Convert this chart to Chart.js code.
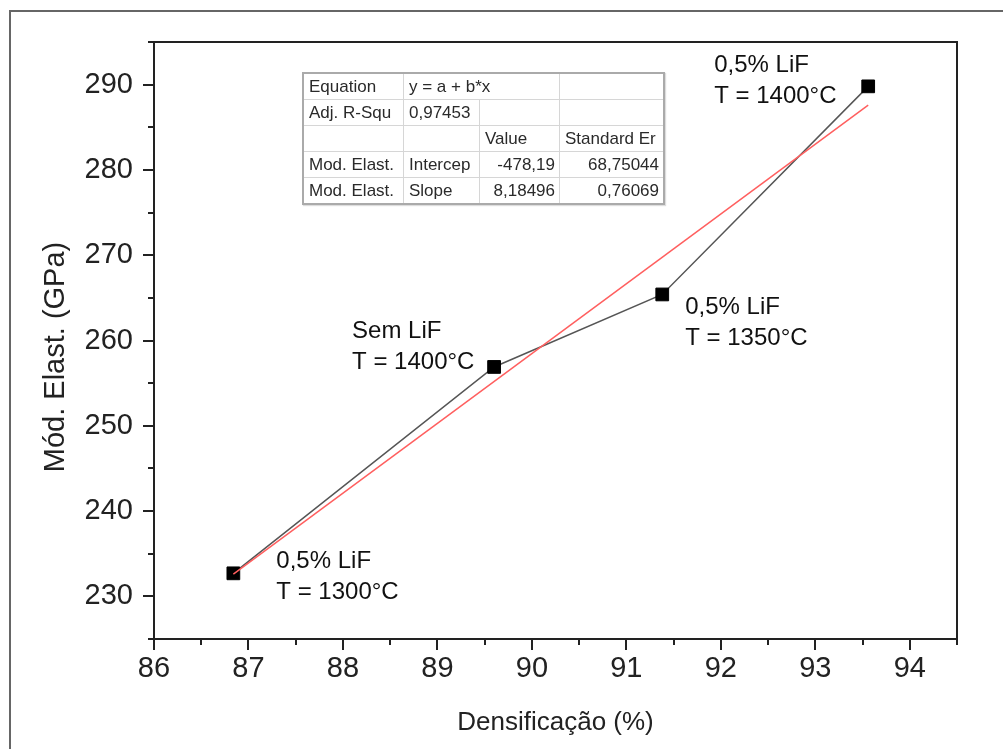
<!DOCTYPE html>
<html>
<head>
<meta charset="utf-8">
<script src="https://cdn.jsdelivr.net/npm/chart.js@4.4.0/dist/chart.umd.min.js"></script>
<style>
  body { margin: 0; background: #fff; font-family: "Liberation Sans", Arial, sans-serif; }
  #wrap { position: relative; width: 1003px; height: 749px; overflow: hidden; background: #fff; }
  #frame { position: absolute; left: 9px; top: 10px; width: 1100px; height: 900px; border: 2px solid #666; }
  #chartBox { position: absolute; left: 0; top: 0; width: 1003px; height: 749px; }
  #fitTable { position: absolute; left: 302px; top: 72px; border-collapse: collapse;
    font-size: 17px; color: #2a2a2a; background: #fff; border: 2px solid #aaa;
    box-shadow: 1px 1px 1px #ddd; }
  #fitTable td { border: 1px solid #d6d6d6; height: 25px; padding: 0 4px 0 5px; white-space: nowrap; }
  #fitTable td.num { text-align: right; }
</style>
</head>
<body>
<div id="wrap">
  <div id="frame"></div>
  <div id="chartBox"><canvas id="modChart"></canvas></div>
  <table id="fitTable"></table>
</div>
<script>
// densification (%) vs elastic modulus (GPa)
const densificacao = [86.84, 89.60, 91.38, 93.56];
const modElast = [232.7, 256.9, 265.4, 289.8];
const pointLabels = [
  ['0,5% LiF', 'T = 1300°C'],
  ['Sem LiF', 'T = 1400°C'],
  ['0,5% LiF', 'T = 1350°C'],
  ['0,5% LiF', 'T = 1400°C']
];
// linear fit end points (red line)
const fitX = [86.84, 93.56];
const fitY = [232.6, 287.6];

const xTickLabels = ['86', '87', '88', '89', '90', '91', '92', '93', '94'];
const yTickLabels = ['230', '240', '250', '260', '270', '280', '290'];
const yTitle = 'Mód. Elast. (GPa)';

// fit results box
const fitRows = [
  ['Equation', 'y = a + b*x', null, ''],
  ['Adj. R-Squ', '0,97453', '', ''],
  ['', '', 'Value', 'Standard Er'],
  ['Mod. Elast.', 'Intercep', '-478,19', '68,75044'],
  ['Mod. Elast.', 'Slope', '8,18496', '0,76069']
];

// label offsets from each point, in px
const labelOffsets = [[43, -12], [-142, -36], [23, 13], [-154, -21]];

const table = document.getElementById('fitTable');
const colWidths = [100, 76, 80, 104];
fitRows.forEach((row, r) => {
  const tr = document.createElement('tr');
  for (let c = 0; c < row.length; c++) {
    if (row[c] === null) continue;
    const td = document.createElement('td');
    td.textContent = row[c];
    td.style.width = (colWidths[c] - 10) + 'px';
    if (row[c + 1] === null) td.colSpan = 2;
    if (r >= 3 && c >= 2) td.className = 'num';
    tr.appendChild(td);
  }
  table.appendChild(tr);
});

const axisDecor = {
  id: 'axisDecor',
  afterDraw(chart) {
    const { ctx, chartArea: a, scales: { x, y } } = chart;
    ctx.save();
    ctx.strokeStyle = '#222';
    ctx.lineWidth = 2;
    ctx.strokeRect(a.left, a.top, a.right - a.left, a.bottom - a.top);
    ctx.beginPath();
    x.ticks.forEach(t => {
      const px = Math.round(x.getPixelForValue(t.value));
      const len = Number.isInteger(t.value) ? 11 : 6;
      ctx.moveTo(px, a.bottom);
      ctx.lineTo(px, a.bottom + len);
    });
    y.ticks.forEach(t => {
      const py = Math.round(y.getPixelForValue(t.value));
      const len = t.value % 10 === 0 ? 11 : 6;
      ctx.moveTo(a.left, py);
      ctx.lineTo(a.left - len, py);
    });
    ctx.stroke();

    // y axis title, sits a bit below the middle of the axis
    ctx.fillStyle = '#222';
    ctx.font = '29px "Liberation Sans", Arial, sans-serif';
    ctx.textAlign = 'center';
    ctx.textBaseline = 'alphabetic';
    ctx.translate(64, 357);
    ctx.rotate(-Math.PI / 2);
    ctx.fillText(yTitle, 0, 0);
    ctx.setTransform(1, 0, 0, 1, 0, 0);

    // point annotations
    ctx.fillStyle = '#111';
    ctx.font = '24px "Liberation Sans", Arial, sans-serif';
    ctx.textBaseline = 'middle';
    ctx.textAlign = 'left';
    densificacao.forEach((d, i) => {
      const px = x.getPixelForValue(d) + labelOffsets[i][0];
      const py = y.getPixelForValue(modElast[i]) + labelOffsets[i][1];
      pointLabels[i].forEach((line, j) => ctx.fillText(line, px, py + j * 31));
    });
    ctx.restore();
  }
};

new Chart(document.getElementById('modChart'), {
  type: 'scatter',
  data: {
    datasets: [
      {
        data: fitX.map((v, i) => ({ x: v, y: fitY[i] })),
        showLine: true,
        borderColor: '#ff5f5f',
        borderWidth: 1.5,
        pointRadius: 0
      },
      {
        data: densificacao.map((v, i) => ({ x: v, y: modElast[i] })),
        showLine: true,
        borderColor: '#555',
        borderWidth: 1.5,
        pointStyle: 'rect',
        pointRadius: 9,
        pointBackgroundColor: '#000',
        pointBorderColor: '#000',
        pointBorderWidth: 1
      }
    ]
  },
  options: {
    responsive: true,
    maintainAspectRatio: false,
    animation: false,
    layout: { padding: { left: 0, top: 42, right: 46, bottom: 0 } },
    plugins: { legend: { display: false }, tooltip: { enabled: false } },
    scales: {
      x: {
        type: 'linear',
        min: 86, max: 94.5,
        afterFit: s => { s.height = 110; },
        grid: { display: false, drawTicks: false },
        border: { display: false },
        ticks: {
          stepSize: 0.5,
          padding: 13,
          color: '#222',
          font: { size: 29, family: '"Liberation Sans", Arial, sans-serif' },
          maxRotation: 0,
          autoSkip: false,
          callback: v => Number.isInteger(v) ? xTickLabels[v - 86] : ''
        },
        title: {
          display: true,
          text: 'Densificação (%)',
          color: '#222',
          font: { size: 26, family: '"Liberation Sans", Arial, sans-serif' },
          padding: { top: 0, bottom: 11 }
        }
      },
      y: {
        type: 'linear',
        min: 225, max: 295,
        afterFit: s => { s.width = 154; },
        grid: { display: false, drawTicks: false },
        border: { display: false },
        ticks: {
          stepSize: 5,
          padding: 21,
          color: '#222',
          font: { size: 29, family: '"Liberation Sans", Arial, sans-serif' },
          autoSkip: false,
          callback: v => v % 10 === 0 ? yTickLabels[(v - 230) / 10] : ''
        },
        title: { display: false }
      }
    }
  },
  plugins: [axisDecor]
});
</script>
</body>
</html>
